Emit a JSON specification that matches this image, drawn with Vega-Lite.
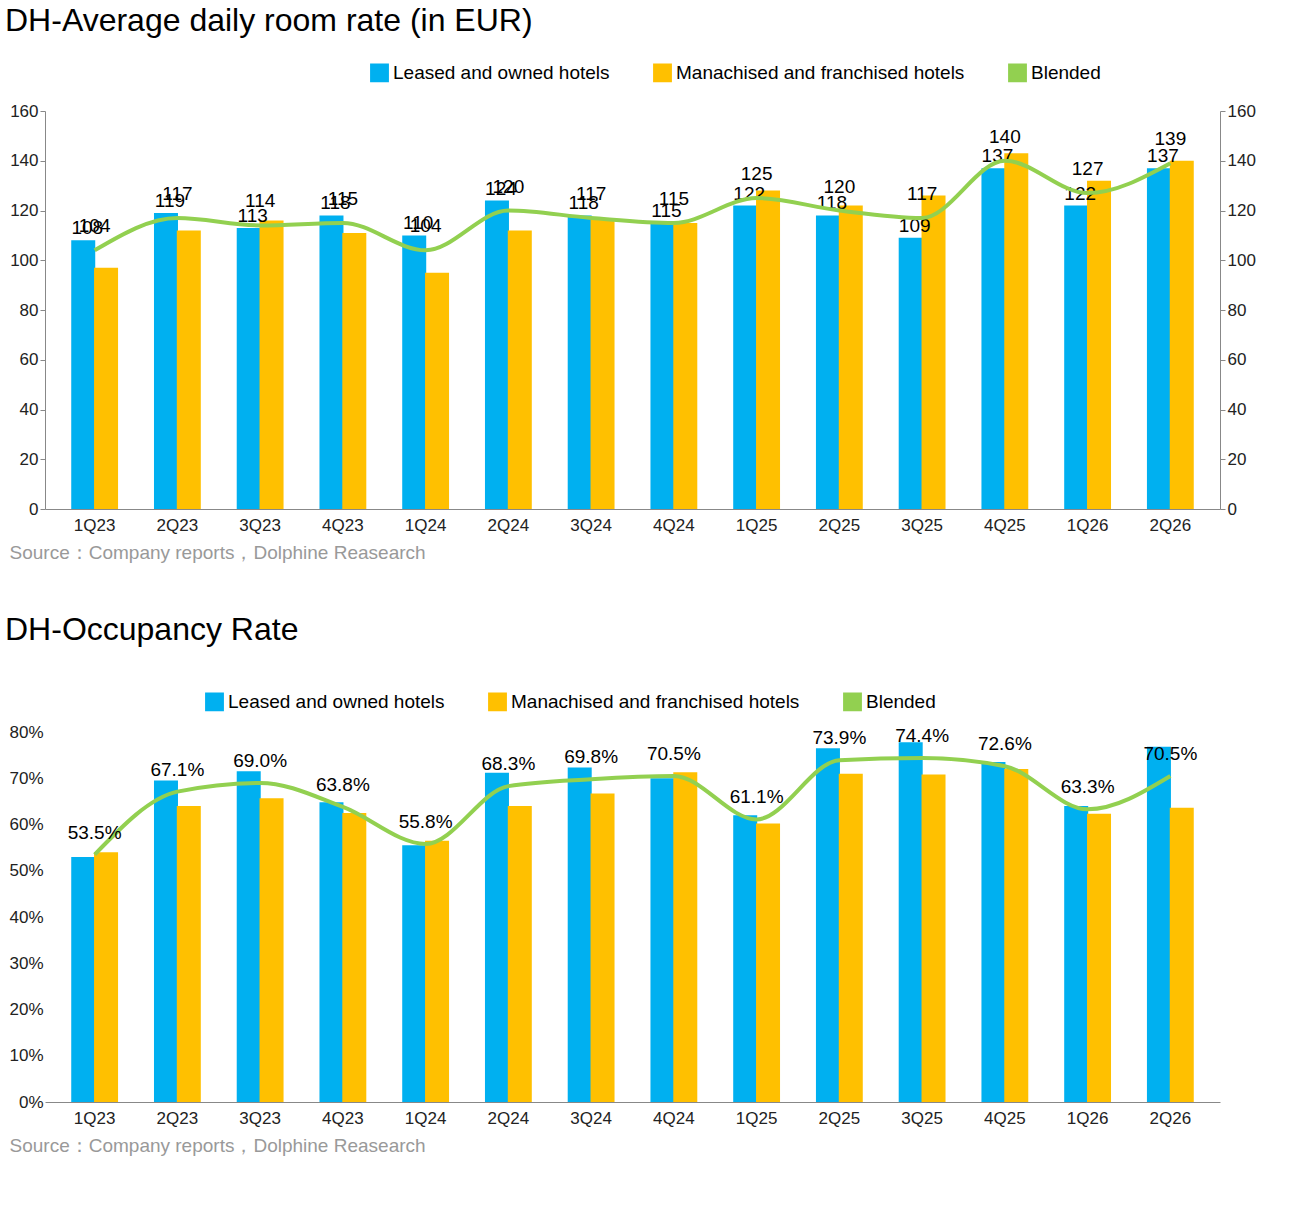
{
"$schema":"https://vega.github.io/schema/vega-lite/v6.json",
"background":"white",
"padding":{"left":5,"top":5,"right":5,"bottom":5},
"config":{"font":"Liberation Sans","view":{"stroke":null},"axis":{"labelFontSize":17,"labelColor":"#222","grid":false,"domainColor":"#888","tickColor":"#888"},"legend":{"labelFontSize":19,"orient":"none","direction":"horizontal","columnPadding":40,"symbolSize":300,"title":null,"labelLimit":500,"symbolType":"square"},"title":{"fontSize":32,"fontWeight":"normal","anchor":"start","color":"#000","frame":"group"}},
"datasets":{
"adr":[
{"q":"1Q23","Leased and owned hotels":108,"Manachised and franchised hotels":97,"Blended":104},
{"q":"2Q23","Leased and owned hotels":119,"Manachised and franchised hotels":112,"Blended":117},
{"q":"3Q23","Leased and owned hotels":113,"Manachised and franchised hotels":116,"Blended":114},
{"q":"4Q23","Leased and owned hotels":118,"Manachised and franchised hotels":111,"Blended":115},
{"q":"1Q24","Leased and owned hotels":110,"Manachised and franchised hotels":95,"Blended":104},
{"q":"2Q24","Leased and owned hotels":124,"Manachised and franchised hotels":112,"Blended":120},
{"q":"3Q24","Leased and owned hotels":118,"Manachised and franchised hotels":117,"Blended":117},
{"q":"4Q24","Leased and owned hotels":115,"Manachised and franchised hotels":115,"Blended":115},
{"q":"1Q25","Leased and owned hotels":122,"Manachised and franchised hotels":128,"Blended":125},
{"q":"2Q25","Leased and owned hotels":118,"Manachised and franchised hotels":122,"Blended":120},
{"q":"3Q25","Leased and owned hotels":109,"Manachised and franchised hotels":126,"Blended":117},
{"q":"4Q25","Leased and owned hotels":137,"Manachised and franchised hotels":143,"Blended":140},
{"q":"1Q26","Leased and owned hotels":122,"Manachised and franchised hotels":132,"Blended":127},
{"q":"2Q26","Leased and owned hotels":137,"Manachised and franchised hotels":140,"Blended":139}],
"occ":[
{"q":"1Q23","Leased and owned hotels":0.530,"Manachised and franchised hotels":0.540,"Blended":0.535},
{"q":"2Q23","Leased and owned hotels":0.695,"Manachised and franchised hotels":0.640,"Blended":0.671},
{"q":"3Q23","Leased and owned hotels":0.715,"Manachised and franchised hotels":0.657,"Blended":0.690},
{"q":"4Q23","Leased and owned hotels":0.648,"Manachised and franchised hotels":0.625,"Blended":0.638},
{"q":"1Q24","Leased and owned hotels":0.555,"Manachised and franchised hotels":0.565,"Blended":0.558},
{"q":"2Q24","Leased and owned hotels":0.712,"Manachised and franchised hotels":0.640,"Blended":0.683},
{"q":"3Q24","Leased and owned hotels":0.723,"Manachised and franchised hotels":0.667,"Blended":0.698},
{"q":"4Q24","Leased and owned hotels":0.700,"Manachised and franchised hotels":0.713,"Blended":0.705},
{"q":"1Q25","Leased and owned hotels":0.620,"Manachised and franchised hotels":0.602,"Blended":0.611},
{"q":"2Q25","Leased and owned hotels":0.765,"Manachised and franchised hotels":0.710,"Blended":0.739},
{"q":"3Q25","Leased and owned hotels":0.778,"Manachised and franchised hotels":0.708,"Blended":0.744},
{"q":"4Q25","Leased and owned hotels":0.735,"Manachised and franchised hotels":0.720,"Blended":0.726},
{"q":"1Q26","Leased and owned hotels":0.640,"Manachised and franchised hotels":0.623,"Blended":0.633},
{"q":"2Q26","Leased and owned hotels":0.768,"Manachised and franchised hotels":0.636,"Blended":0.705}]
},
"resolve":{"scale":{"color":"independent"},"legend":{"color":"independent"}},
"vconcat":[
{
"title":{"text":"DH-Average daily room rate (in EUR)","offset":25,"dx":-40},
"width":1175,"height":398,
"data":{"name":"adr"},
"layer":[
{"layer":[
{"transform":[{"fold":["Leased and owned hotels","Manachised and franchised hotels"],"as":["series","v"]}],
"mark":{"type":"bar","width":24},
"encoding":{
"x":{"field":"q","type":"nominal","sort":null,"title":"Source：Company reports，Dolphine Reasearch","axis":{"labelAngle":0,"ticks":false,"labelPadding":8,"titleAnchor":"start","titleX":-36,"titleFontSize":19,"titleFontWeight":"normal","titleColor":"#999","titlePadding":10}},
"xOffset":{"field":"series","scale":{"domain":["Leased and owned hotels","Manachised and franchised hotels"],"paddingInner":0,"paddingOuter":0.45}},
"y":{"field":"v","type":"quantitative","scale":{"domain":[0,160]},"axis":{"tickCount":8,"title":null}},
"color":{"field":"series","scale":{"domain":["Leased and owned hotels","Manachised and franchised hotels","Blended"],"range":["#00B0F0","#FFC000","#92D050"]},"legend":{"legendX":325,"legendY":-48}}}},
{"mark":{"type":"text","dy":-2,"dx":4,"fontSize":19,"baseline":"bottom"},
"encoding":{"x":{"field":"q","type":"nominal","sort":null},"xOffset":{"datum":"Leased and owned hotels"},"y":{"field":"Leased and owned hotels","type":"quantitative"},"text":{"field":"Leased and owned hotels"}}},
{"mark":{"type":"line","strokeWidth":4,"interpolate":"monotone"},
"encoding":{"x":{"field":"q","type":"nominal","sort":null},"y":{"field":"Blended","type":"quantitative"},"color":{"datum":"Blended"}}},
{"mark":{"type":"text","dy":-14,"dx":0,"fontSize":19,"baseline":"bottom"},
"encoding":{"x":{"field":"q","type":"nominal","sort":null},"y":{"field":"Blended","type":"quantitative"},"text":{"field":"Blended"}}}
]},
{"mark":{"type":"rule","opacity":0},
"encoding":{"y":{"datum":0,"type":"quantitative","scale":{"domain":[0,160]},"axis":{"orient":"right","tickCount":8,"title":null}}}}
],
"resolve":{"scale":{"y":"independent"}}
},
{
"title":{"text":"DH-Occupancy Rate","offset":45,"dx":-40},
"width":1175,"height":370,
"data":{"name":"occ"},
"layer":[
{"transform":[{"fold":["Leased and owned hotels","Manachised and franchised hotels"],"as":["series","v"]}],
"mark":{"type":"bar","width":24},
"encoding":{
"x":{"field":"q","type":"nominal","sort":null,"title":"Source：Company reports，Dolphine Reasearch","axis":{"labelAngle":0,"ticks":false,"labelPadding":8,"titleAnchor":"start","titleX":-36,"titleFontSize":19,"titleFontWeight":"normal","titleColor":"#999","titlePadding":10}},
"xOffset":{"field":"series","scale":{"domain":["Leased and owned hotels","Manachised and franchised hotels"],"paddingInner":0,"paddingOuter":0.45}},
"y":{"field":"v","type":"quantitative","scale":{"domain":[0,0.8]},"axis":{"format":".0%","tickCount":8,"title":null,"domain":false,"ticks":false}},
"color":{"field":"series","scale":{"domain":["Leased and owned hotels","Manachised and franchised hotels","Blended"],"range":["#00B0F0","#FFC000","#92D050"]},"legend":{"legendX":160,"legendY":-40}}}},
{"mark":{"type":"line","strokeWidth":4,"interpolate":"monotone"},
"encoding":{"x":{"field":"q","type":"nominal","sort":null},"y":{"field":"Blended","type":"quantitative"},"color":{"datum":"Blended"}}},
{"mark":{"type":"text","dy":-12,"fontSize":19,"baseline":"bottom"},
"encoding":{"x":{"field":"q","type":"nominal","sort":null},"y":{"field":"Blended","type":"quantitative"},"text":{"field":"Blended","format":".1%"}}}
]
}
],
"spacing":52
}
